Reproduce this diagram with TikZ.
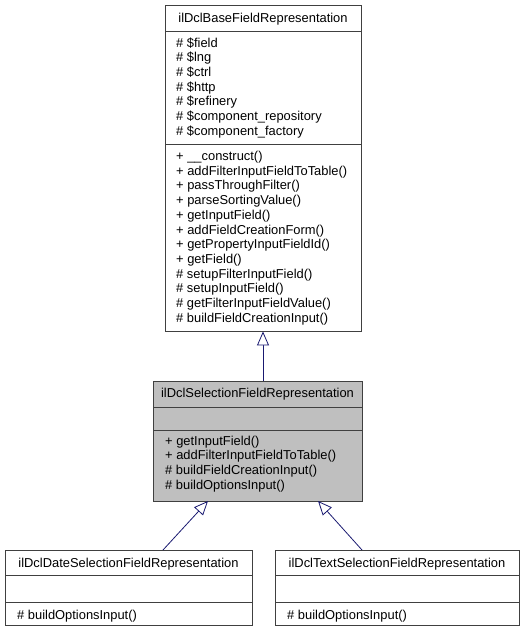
\documentclass[tikz,border=0pt]{standalone}
\usepackage{fontspec}
\setmainfont{Liberation Sans}
\usetikzlibrary{arrows.meta}
\definecolor{edgeblue}{HTML}{191970}
\definecolor{boxline}{HTML}{404040}
\definecolor{selfill}{HTML}{BFBFBF}
\tikzset{
  box/.style={draw=boxline, line width=0.9pt, fill=white},
  selbox/.style={draw=boxline, line width=0.9pt, fill=selfill},
  sepline/.style={draw=boxline, line width=0.9pt},
  txt/.style={inner sep=0pt, anchor=base west, font=\fontsize{12.9}{14.7}\selectfont},
  ttl/.style={inner sep=0pt, anchor=base, font=\fontsize{12.9}{14.7}\selectfont},
  inh/.style={draw=edgeblue, line width=0.8pt, -{Triangle[open, length=14pt, width=12pt, fill=white]}}
}
\newcommand{\boxlines}[4]{% #1 x, #2 first baseline, #3 prefix name, #4 list
  \foreach \t [count=\i from 0] in {#4} {
    \node[txt] (#3\i) at (#1, #2 + 14.7*\i) {\t};
  }
}
\begin{document}
\begin{tikzpicture}[x=1pt, y=-1pt]
\useasboundingbox (0,0) rectangle (525,632);
% base class
\node[box, minimum width=196pt, minimum height=326pt, inner sep=0pt] (base) at (263,168) {};
\draw[sepline] (165,31) -- (361,31);
\draw[sepline] (165,144) -- (361,144);
\node[ttl] (basettl) at (263,22.6) {ilDclBaseFieldRepresentation};
\boxlines{176}{47}{ba}{\# \$field,\# \$lng,\# \$ctrl,\# \$http,\# \$refinery,\# \$component\_repository,\# \$component\_factory}
\boxlines{176}{160.5}{bm}{+ \_\_construct(),+ addFilterInputFieldToTable(),+ passThroughFilter(),+ parseSortingValue(),+ getInputField(),+ addFieldCreationForm(),+ getPropertyInputFieldId(),+ getField(),\# setupFilterInputField(),\# setupInputField(),\# getFilterInputFieldValue(),\# buildFieldCreationInput()}
% selection class
\node[selbox, minimum width=209pt, minimum height=120pt, inner sep=0pt] (sel) at (257.5,441) {};
\draw[sepline] (153,407) -- (362,407);
\draw[sepline] (153,430) -- (362,430);
\node[ttl] (selttl) at (257.5,397) {ilDclSelectionFieldRepresentation};
\boxlines{165}{445}{sm}{+ getInputField(),+ addFilterInputFieldToTable(),\# buildFieldCreationInput(),\# buildOptionsInput()}
% date class
\node[box, minimum width=247pt, minimum height=75pt, inner sep=0pt] (date) at (128.5,587.5) {};
\draw[sepline] (5,575) -- (252,575);
\draw[sepline] (5,602) -- (252,602);
\node[ttl] (datettl) at (128.5,567) {ilDclDateSelectionFieldRepresentation};
\node[txt] (datem) at (17,619) {\# buildOptionsInput()};
% text class
\node[box, minimum width=244pt, minimum height=75pt, inner sep=0pt] (text) at (397,587.5) {};
\draw[sepline] (275,575) -- (519,575);
\draw[sepline] (275,602) -- (519,602);
\node[ttl] (textttl) at (397,567) {ilDclTextSelectionFieldRepresentation};
\node[txt] (textm) at (287,619) {\# buildOptionsInput()};
% connectors
\coordinate (dstart) at (163,550);
\coordinate (dend) at (208,501);
\coordinate (tstart) at (362,550);
\coordinate (tend) at (318,501);
\draw[inh] (sel.north -| base.south) -- (base.south);
\draw[inh] (dstart) -- (dend);
\draw[inh] (tstart) -- (tend);
\end{tikzpicture}
\end{document}
